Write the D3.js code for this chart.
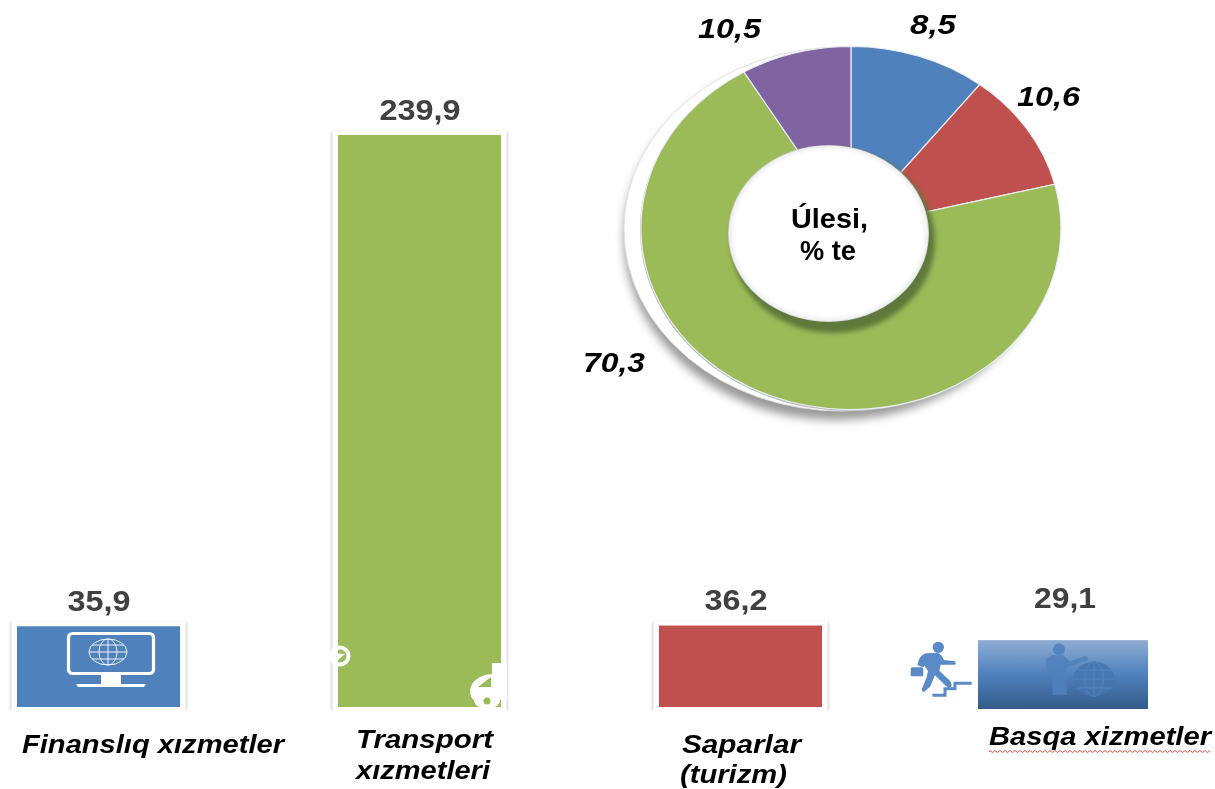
<!DOCTYPE html>
<html><head><meta charset="utf-8">
<script src="https://cdn.jsdelivr.net/npm/d3@7/dist/d3.min.js"></script>
<style>html,body{margin:0;padding:0;background:#fff;overflow:hidden}svg{display:block;font-family:"Liberation Sans",Arial,sans-serif}</style>
</head><body><svg id="c" width="1215" height="789"></svg>
<script>
// ---- data ----
const categories = ["Finanslıq xızmetler","Transport xızmetleri","Saparlar (turizm)","Basqa xizmetler"];
const barValues = [35.9,239.9,36.2,29.1];
const barLabels = ["35,9","239,9","36,2","29,1"];
const sliceNames = ["Blue","Red","Green","Purple"];
const sliceValues = [10.5,10.6,70.3,8.5];
const sliceLabels = ["8,5","10,6","70,3","10,5"];
const centerLines = ["Úlesi,","% te"];

const BLUE="#4f81bd",RED="#c0504d",GREEN="#9bbb59",PURPLE="#8064a2";
const svg=d3.select("#c"), defs=svg.append("defs");
const blur=(id,s)=>defs.append("filter").attr("id",id).attr("x","-30%").attr("y","-30%").attr("width","160%").attr("height","160%")
  .append("feGaussianBlur").attr("stdDeviation",s);
blur("b0",.8);blur("b05",.7);blur("b1",2.5);blur("b2",5);blur("soft",0.5);blur("ic",.45);
const lg=defs.append("linearGradient").attr("id","gr").attr("x1",0).attr("x2",0).attr("y1",0).attr("y2",1);
[[0,"#8fadd4"],[.5,"#4f81bd"],[1,"#345a88"]].forEach(([o,c])=>lg.append("stop").attr("offset",o).attr("stop-color",c));
const hg=defs.append("radialGradient").attr("id","hole");
[[0,"#fff"],[.93,"#fff"],[.985,"#f0f0f0"],[1,"#c8c8c8"]].forEach(([o,c])=>hg.append("stop").attr("offset",o).attr("stop-color",c));

// ---- bars ----
const x=d3.scaleBand().domain(categories).range([17,1143]).paddingInner(.4922).paddingOuter(0);
const y=d3.scaleLinear().domain([0,239.9]).range([712.7,135]);
const baseY=[707,707,707,709], fills=[BLUE,GREEN,RED,"url(#gr)"], framed=[1,1,1,0];
const bars=svg.append("g");
categories.forEach((c,i)=>{
  let X=x(c),W=x.bandwidth(),T=y(barValues[i]);const B=baseY[i];
  if(framed[i]){
    bars.append("rect").attr("x",X-7).attr("y",T-4).attr("width",W+14).attr("height",B-T+8).attr("rx",2).attr("fill","#dadada").attr("filter","url(#b0)");
    bars.append("rect").attr("x",X-5.5).attr("y",T-4.5).attr("width",W+11).attr("height",B-T+14).attr("fill","#fff");
  } else { X-=2; W+=7; T-=2.5; }
  bars.append("rect").attr("x",X).attr("y",T).attr("width",W).attr("height",B-T).attr("fill",fills[i]);
});
const clip=defs.append("clipPath").attr("id","gc");
clip.append("rect").attr("x",x(categories[1])-8).attr("y",130).attr("width",x.bandwidth()+14).attr("height",578);

// monitor icon
const m=svg.append("g").attr("fill","none").attr("stroke","#fff").attr("filter","url(#ic)");
m.append("rect").attr("x",68.5).attr("y",633.5).attr("width",85).attr("height",40).attr("rx",4).attr("stroke-width",3.2);
m.append("path").attr("d","M101 675H121V684H101ZM76 684H146L144 687H78Z").attr("fill","#fff").attr("stroke","none");
const gl=m.append("g").attr("stroke-width",1).attr("stroke","#eef2f8");
gl.append("ellipse").attr("cx",108).attr("cy",652).attr("rx",19).attr("ry",13);
gl.append("ellipse").attr("cx",108).attr("cy",652).attr("rx",9).attr("ry",13);
gl.append("path").attr("d","M108 639V665M89 652H127M92 645H124M92 659H124");

// car + ring on the transport bar
const tg=svg.append("g").attr("clip-path","url(#gc)");
tg.append("circle").attr("cx",340).attr("cy",656).attr("r",8.5).attr("fill","none").attr("stroke","#fff").attr("stroke-width",4);
tg.append("path").attr("d","M330 653L345 654L337 661Z").attr("fill","#fff");
tg.append("path").attr("fill","#fff").attr("d","M492 663H515V700H500A13 9 0 0 1 474 700Q470 698 470 690Q471 682 480 677Q486 674 492 674Z");
tg.append("path").attr("fill",GREEN).attr("d","M478 687L491 677V687Z");
tg.append("circle").attr("cx",487).attr("cy",702).attr("r",8).attr("fill","#fff");
tg.append("circle").attr("cx",487).attr("cy",701).attr("r",3.5).attr("fill",GREEN);

// runner + presenter icons (drawn in a 3x local grid)
const ig=svg.append("g").attr("transform","translate(900,630) scale(0.3333)");
const r=ig.append("g").attr("fill","#5a8bc6");
r.append("circle").attr("cx",115).attr("cy",52).attr("r",17);
r.append("path").attr("d","M52 105Q58 75 78 70L112 68Q125 72 132 90L165 94Q170 100 165 104L122 104L118 122L150 152Q158 165 152 172Q145 174 138 168L105 136L90 170L72 186Q64 184 66 176L80 142L84 122L74 108L68 112Z");
r.append("rect").attr("x",32).attr("y",112).attr("width",38).attr("height",27).attr("rx",5);
r.append("path").attr("d","M97 196H135V176H165V160H215").attr("fill","none").attr("stroke","#5a8bc6").attr("stroke-width",9);
const p=ig.append("g").attr("fill","#4f81bd").attr("opacity",.85);
p.append("circle").attr("cx",477).attr("cy",58).attr("r",18);
p.append("path").attr("d","M437 95Q440 78 458 76H490L510 95L555 78Q568 80 563 90L500 112V195H458V140L440 135Z");
p.append("ellipse").attr("cx",582).attr("cy",147).attr("rx",62).attr("ry",52).attr("fill","#4775ad");
const pg=p.append("g").attr("fill","none").attr("stroke","#4f81bd").attr("stroke-width",4);
pg.append("ellipse").attr("cx",582).attr("cy",147).attr("rx",28).attr("ry",52);
pg.append("path").attr("d","M582 95V199M520 147H644M530 120H634M530 174H634");

// ---- donut ----
const CX=851,CY=228,RX=210,RY=181.5;
const under=svg.append("g");
under.append("ellipse").attr("cx",836).attr("cy",238).attr("rx",212).attr("ry",182).attr("fill","#9a9a9a").attr("filter","url(#b2)");
under.append("ellipse").attr("cx",842).attr("cy",229).attr("rx",218).attr("ry",182).attr("fill","#fff").attr("stroke","#e2e2e2").attr("stroke-width",1);
under.append("ellipse").attr("cx",CX-1).attr("cy",CY+1.5).attr("rx",RX).attr("ry",RY).attr("fill","#bbb").attr("filter","url(#b05)");
const pie=d3.pie().sort(null);
const arc=d3.arc().innerRadius(0).outerRadius(1);
const pg2=svg.append("g").attr("transform",`translate(${CX},${CY}) scale(${RX},${RY})`);
pg2.selectAll("path").data(pie(sliceValues)).join("path")
  .attr("d",arc).attr("fill",(d,i)=>[BLUE,RED,GREEN,PURPLE][i])
  .attr("stroke","#e9edf2").attr("stroke-width",1.2).attr("vector-effect","non-scaling-stroke");
defs.append("clipPath").attr("id","ringClip").append("ellipse").attr("cx",CX).attr("cy",CY).attr("rx",RX).attr("ry",RY);
const sh=svg.append("g").attr("clip-path","url(#ringClip)");
sh.append("ellipse").attr("cx",833).attr("cy",241).attr("rx",102).attr("ry",92).attr("fill","#5f783a").attr("filter","url(#b1)");
svg.append("ellipse").attr("cx",828.5).attr("cy",233.5).attr("rx",100.5).attr("ry",88.5).attr("fill","url(#hole)");

// ---- text ----
const tx=svg.append("g").attr("filter","url(#soft)");
function T(s,x0,base,size,w,opt={}){
  return tx.append("text").text(s).attr("x",x0).attr("y",base).attr("font-size",size)
    .attr("font-weight","bold").attr("font-style",opt.italic?"italic":"normal")
    .attr("fill",opt.fill||"#000")
    .attr("textLength",w).attr("lengthAdjust","spacingAndGlyphs");
}
const labelW=[63,81,63,62], labelCx=[99,420,736,1065], extraLift=[0,0,0,19];
barLabels.forEach((s,i)=>T(s,labelCx[i]-labelW[i]/2,y(barValues[i])-15.5-extraLift[i],29,labelW[i],{fill:"#404040"}));

T("Finanslıq xızmetler",22,753,26,262,{italic:1});
T("Transport",356,748,26,137,{italic:1});
T("xızmetleri",356,779,26,134,{italic:1});
T("Saparlar",682,753,26,119,{italic:1});
T("(turizm)",680,783,25,107,{italic:1});
T("Basqa xizmetler",989,745,26,222,{italic:1});

const sliceLabelPos=[[910,34,46],[1017,106,63],[583,372,62],[698,38,63]];
sliceLabels.forEach((s,i)=>T(s,sliceLabelPos[i][0],sliceLabelPos[i][1],28,sliceLabelPos[i][2],{italic:1}));
T(centerLines[0],791,228,27,77);
T(centerLines[1],800,260,27,56);

// spell-check squiggle
let sq="M989 752";
d3.range(990,1211,2.5).forEach((v,i)=>sq+=`L${v} ${i%2?752.5:750.5}`);
svg.append("path").attr("d",sq).attr("fill","none").attr("stroke","#e0504a").attr("stroke-width",1);
</script></body></html>
